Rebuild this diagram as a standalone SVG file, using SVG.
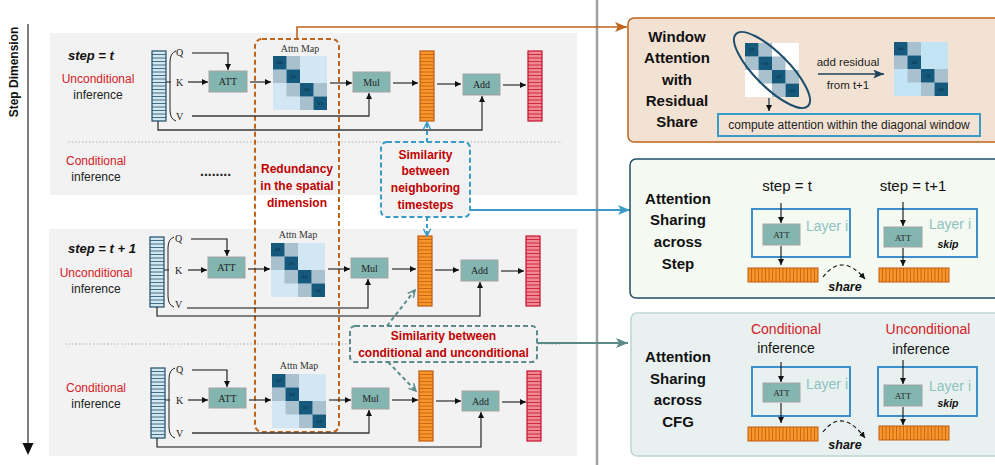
<svg xmlns="http://www.w3.org/2000/svg" xmlns:xlink="http://www.w3.org/1999/xlink" width="995" height="465" viewBox="0 0 995 465">
<style>
.s{font-family:"Liberation Sans",Arial,sans-serif}
.sf{font-family:"Liberation Serif","Times New Roman",serif}
.b{font-weight:bold}
.bi{font-weight:bold;font-style:italic}
.m{text-anchor:middle}
.rd{fill:#d42026}
.rb{fill:#c00000;font-weight:bold;font-size:12px}
.lbl{font-size:12px;fill:#222}
.box{fill:#84b6b1;stroke:#a3a3a3;stroke-width:1}
.bt{font-size:10px;fill:#222}
.am{font-size:10px;fill:#333}
.ln{fill:none;stroke:#3a3a3a;stroke-width:1.3}
.lnk{fill:none;stroke:#111;stroke-width:1.1}
.big{font-size:15px;font-weight:bold;fill:#111}
.layer{fill:none;stroke:#3d8fcb;stroke-width:2}
.li{font-size:14px;fill:#8ec3c1}
.sm{font-size:15px;fill:#111}
.ci{font-size:14px}
</style>
<defs>
<marker id="ah" viewBox="0 0 8 8" refX="8" refY="4" markerWidth="6" markerHeight="6" markerUnits="userSpaceOnUse" orient="auto"><path d="M0,0 L8,4 L0,8 z" fill="#111"/></marker>
<marker id="ahO" viewBox="0 0 12 10" refX="12" refY="5" markerWidth="12" markerHeight="10" markerUnits="userSpaceOnUse" orient="auto"><path d="M0,0 L12,5 L0,10 L3,5 z" fill="#c0641c"/></marker>
<marker id="ahB" viewBox="0 0 12 10" refX="12" refY="5" markerWidth="12" markerHeight="10" markerUnits="userSpaceOnUse" orient="auto"><path d="M0,0 L12,5 L0,10 L3,5 z" fill="#3a9cc6"/></marker>
<marker id="ahT" viewBox="0 0 12 10" refX="12" refY="5" markerWidth="12" markerHeight="10" markerUnits="userSpaceOnUse" orient="auto"><path d="M0,0 L12,5 L0,10 L3,5 z" fill="#5b8a8a"/></marker>
<marker id="ahN" viewBox="0 0 12 10" refX="12" refY="5" markerWidth="11" markerHeight="9" markerUnits="userSpaceOnUse" orient="auto"><path d="M0,0 L12,5 L0,10 L3,5 z" fill="#1f3f5c"/></marker>
<marker id="vB" viewBox="0 0 10 10" refX="9" refY="5" markerWidth="9" markerHeight="9" markerUnits="userSpaceOnUse" orient="auto"><path d="M1,1 L9,5 L1,9" fill="none" stroke="#3a9cc6" stroke-width="1.6"/></marker>
<marker id="vT" viewBox="0 0 10 10" refX="9" refY="5" markerWidth="9" markerHeight="9" markerUnits="userSpaceOnUse" orient="auto"><path d="M1,1 L9,5 L1,9" fill="none" stroke="#5b8a8a" stroke-width="1.6"/></marker>
<g id="stripesH"><path d="M0,3.5H14M0,7H14M0,10.5H14M0,14H14M0,17.5H14M0,21H14M0,24.5H14M0,28H14M0,31.5H14M0,35H14M0,38.5H14M0,42H14M0,45.5H14M0,49H14M0,52.5H14M0,56H14M0,59.5H14M0,63H14M0,66.5H14"/></g>
<g id="tokB"><rect width="14" height="70" fill="#d3e7f1" stroke="#1f4e6b" stroke-width="1.2"/><use href="#stripesH" stroke="#1f4e6b" stroke-width="0.8"/></g>
<g id="tokO"><rect width="14" height="70" fill="#f7962a" stroke="#c05a12" stroke-width="1.2"/><use href="#stripesH" stroke="#c05a12" stroke-width="0.8"/></g>
<g id="tokR"><rect width="14" height="70" fill="#ee8a92" stroke="#c8102e" stroke-width="1.2"/><use href="#stripesH" stroke="#c8102e" stroke-width="0.8"/></g>
<g id="strip"><rect width="70" height="14" fill="#f7962a" stroke="#c05a12" stroke-width="1"/><path d="M3.5,0V14M7,0V14M10.5,0V14M14,0V14M17.5,0V14M21,0V14M24.5,0V14M28,0V14M31.5,0V14M35,0V14M38.5,0V14M42,0V14M45.5,0V14M49,0V14M52.5,0V14M56,0V14M59.5,0V14M63,0V14M66.5,0V14" stroke="#c05a12" stroke-width="0.8"/></g>
<g id="cells">
<rect x="13.5" y="0" width="13.5" height="13.5" fill="#a9c0cf"/>
<rect x="0" y="13.5" width="13.5" height="13.5" fill="#a9c0cf"/>
<rect x="13.5" y="27" width="13.5" height="13.5" fill="#a9c0cf"/>
<rect x="40.5" y="27" width="13.5" height="13.5" fill="#a9c0cf"/>
<rect x="27" y="40.5" width="13.5" height="13.5" fill="#a9c0cf"/>
<rect x="0" y="0" width="13.5" height="13.5" fill="#15597c"/>
<rect x="13.5" y="13.5" width="13.5" height="13.5" fill="#15597c"/>
<rect x="27" y="27" width="13.5" height="13.5" fill="#15597c"/>
<rect x="40.5" y="40.5" width="13.5" height="13.5" fill="#15597c"/>
<g font-family="Liberation Serif,serif" font-size="4" fill="#0a2536" text-anchor="middle"><text x="6.75" y="8">0.8</text><text x="20.25" y="21.5">0.8</text><text x="33.75" y="35">0.8</text><text x="47.25" y="48.5">0.8</text></g>
</g>
<g id="amap"><rect width="54" height="54" fill="#d3e6f3"/><use href="#cells"/></g>
<g id="wmap"><rect width="54" height="54" fill="#fff"/>
<rect x="13.5" y="0" width="13.5" height="13.5" fill="#a9c0cf"/>
<rect x="0" y="13.5" width="13.5" height="13.5" fill="#a9c0cf"/>
<rect x="27" y="13.5" width="13.5" height="13.5" fill="#a9c0cf"/>
<rect x="13.5" y="27" width="13.5" height="13.5" fill="#a9c0cf"/>
<rect x="40.5" y="27" width="13.5" height="13.5" fill="#a9c0cf"/>
<rect x="27" y="40.5" width="13.5" height="13.5" fill="#a9c0cf"/>
<rect x="0" y="0" width="13.5" height="13.5" fill="#15597c"/>
<rect x="13.5" y="13.5" width="13.5" height="13.5" fill="#15597c"/>
<rect x="27" y="27" width="13.5" height="13.5" fill="#15597c"/>
<rect x="40.5" y="40.5" width="13.5" height="13.5" fill="#15597c"/>
<g font-family="Liberation Serif,serif" font-size="4" fill="#0a2536" text-anchor="middle"><text x="6.75" y="8">0.8</text><text x="20.25" y="21.5">0.8</text><text x="33.75" y="35">0.8</text><text x="47.25" y="48.5">0.8</text></g>
</g>
<g id="bmap"><rect width="54" height="54" fill="#c2e4f4"/><use href="#cells"/></g>
</defs>

<rect width="995" height="465" fill="#fff"/>

<!-- left panels -->
<rect x="50" y="33" width="527" height="162" fill="#f2f2f2"/>
<rect x="49" y="229" width="528" height="227" fill="#f2f2f2"/>
<line x1="68" y1="142" x2="562" y2="142" stroke="#b0b0b0" stroke-width="1" stroke-dasharray="1.5 2"/>
<line x1="65" y1="344" x2="562" y2="344" stroke="#b0b0b0" stroke-width="1" stroke-dasharray="1.5 2"/>

<!-- step dimension axis -->
<g id="axis">
<line x1="28" y1="24" x2="28" y2="444" stroke="#555" stroke-width="1.5"/>
<path d="M22.5,443 L33.5,443 L28,455 z" fill="#111"/>
<text class="s b" font-size="12" fill="#111" text-anchor="middle" transform="translate(18,72) rotate(-90)">Step Dimension</text>
</g>

<line x1="597" y1="0" x2="597" y2="465" stroke="#a0a0a0" stroke-width="2.5"/>

<!-- row A -->
<g id="rowA-labels">
<text class="s bi" font-size="13" x="68" y="60" fill="#111">step = t</text>
<text class="s m rd" font-size="12" x="98" y="83">Unconditional</text>
<text class="s m lbl" x="98" y="99">inference</text>
<text class="s m rd" font-size="12" x="96" y="165">Conditional</text>
<text class="s m lbl" x="96" y="181">inference</text>
<text class="s b" font-size="14" x="200" y="176" fill="#222">........</text>
</g>
<g id="rowA-tokens"><use href="#tokB" x="152" y="51"/>
<path d="M176,51 Q170,53 170,62 L170,110 Q170,119 176,121" fill="none" stroke="#222" stroke-width="1"/>
<line x1="166" y1="82" x2="171" y2="82" stroke="#222" stroke-width="1"/>
<g class="sf bt"><text x="176" y="56">Q</text><text x="176" y="86">K</text><text x="176" y="120">V</text></g></g>
<g id="rowA-att"><rect class="box" x="209" y="71" width="38" height="21"/><text class="sf bt m" x="228" y="85">ATT</text></g>
<g id="rowA-map"><text class="sf m am" x="300" y="52">Attn Map</text><use href="#amap" x="273" y="56"/></g>
<g id="rowA-mul"><rect class="box" x="353" y="72" width="37" height="20"/><text class="sf bt m" x="371.5" y="86">Mul</text></g>
<g id="rowA-orange"><use href="#tokO" x="420" y="51"/></g>
<g id="rowA-add"><rect class="box" x="463" y="74" width="37" height="21"/><text class="sf bt m" x="481.5" y="88">Add</text></g>
<g id="rowA-red"><use href="#tokR" x="528" y="51"/></g>

<!-- row B -->
<g id="rowB-labels">
<text class="s bi" font-size="13" x="68" y="253" fill="#111">step = t + 1</text>
<text class="s m rd" font-size="12" x="96" y="277">Unconditional</text>
<text class="s m lbl" x="96" y="293">inference</text>
</g>
<g id="rowB-tokens"><use href="#tokB" x="150" y="237"/>
<path d="M174,237 Q168,239 168,248 L168,296 Q168,305 174,307" fill="none" stroke="#222" stroke-width="1"/>
<line x1="164" y1="270" x2="169" y2="270" stroke="#222" stroke-width="1"/>
<g class="sf bt"><text x="175" y="242">Q</text><text x="175" y="274">K</text><text x="175" y="308">V</text></g></g>
<g id="rowB-att"><rect class="box" x="208" y="257" width="37" height="21"/><text class="sf bt m" x="226.5" y="271">ATT</text></g>
<g id="rowB-map"><text class="sf m am" x="298" y="238">Attn Map</text><use href="#amap" x="271" y="243"/></g>
<g id="rowB-mul"><rect class="box" x="351" y="258" width="37" height="20"/><text class="sf bt m" x="369.5" y="272">Mul</text></g>
<g id="rowB-orange"><use href="#tokO" x="418" y="236"/></g>
<g id="rowB-add"><rect class="box" x="461" y="260" width="37" height="21"/><text class="sf bt m" x="479.5" y="274">Add</text></g>
<g id="rowB-red"><use href="#tokR" x="526" y="236"/></g>

<!-- row C -->
<g id="rowC-labels">
<text class="s m rd" font-size="12" x="96" y="392">Conditional</text>
<text class="s m lbl" x="96" y="408">inference</text>
</g>
<g id="rowC-tokens"><use href="#tokB" x="151" y="368"/>
<path d="M175,368 Q169,370 169,379 L169,427 Q169,436 175,438" fill="none" stroke="#222" stroke-width="1"/>
<line x1="165" y1="400" x2="170" y2="400" stroke="#222" stroke-width="1"/>
<g class="sf bt"><text x="176" y="373">Q</text><text x="176" y="404">K</text><text x="176" y="437">V</text></g></g>
<g id="rowC-att"><rect class="box" x="209" y="388" width="37" height="20"/><text class="sf bt m" x="227.5" y="401.5">ATT</text></g>
<g id="rowC-map"><text class="sf m am" x="299" y="369">Attn Map</text><use href="#amap" x="272" y="374"/></g>
<g id="rowC-mul"><rect class="box" x="352" y="388" width="37" height="21"/><text class="sf bt m" x="370.5" y="402">Mul</text></g>
<g id="rowC-orange"><use href="#tokO" x="419" y="371"/></g>
<g id="rowC-add"><rect class="box" x="462" y="391" width="37" height="20"/><text class="sf bt m" x="480.5" y="404.5">Add</text></g>
<g id="rowC-red"><use href="#tokR" x="527" y="371"/></g>

<!-- annotation boxes -->
<g id="redundancy">
<rect x="255" y="39" width="84" height="393" rx="7" fill="none" stroke="#c0641c" stroke-width="2" stroke-dasharray="5 3"/>
<text class="s m rb" x="297" y="173">Redundancy</text>
<text class="s m rb" x="297" y="190">in the spatial</text>
<text class="s m rb" x="297" y="207">dimension</text>
</g>
<g id="sim-steps">
<rect x="381" y="142" width="89" height="75" rx="6" fill="#f2f2f2" stroke="#3a9cc6" stroke-width="2" stroke-dasharray="5 3"/>
<text class="s m rb" x="425.5" y="159">Similarity</text>
<text class="s m rb" x="425.5" y="175">between</text>
<text class="s m rb" x="425.5" y="192">neighboring</text>
<text class="s m rb" x="425.5" y="209">timesteps</text>
</g>
<g id="sim-cfg">
<rect x="350" y="326" width="187" height="36" rx="5" fill="#f2f2f2" stroke="#5b8a8a" stroke-width="2" stroke-dasharray="5 3"/>
<text class="s m rb" x="443.5" y="340">Similarity between</text>
<text class="s m rb" x="443.5" y="357">conditional and unconditional</text>
</g>

<!-- connectors -->
<g id="connectors">
<path class="lnk" d="M192,53 H228 V70" marker-end="url(#ah)"/>
<path class="lnk" d="M188,82 H208" marker-end="url(#ah)"/>
<path class="ln" d="M250,82 H271" marker-end="url(#ah)"/>
<path class="ln" d="M330,83 H352" marker-end="url(#ah)"/>
<path class="ln" d="M393,83 H418" marker-end="url(#ah)"/>
<path class="ln" d="M437,84 H461" marker-end="url(#ah)"/>
<path class="ln" d="M503,85 H526" marker-end="url(#ah)"/>
<path class="ln" d="M192,116 H369 V93" marker-end="url(#ah)"/>
<path class="ln" d="M158,121 V130 H482 V96" marker-end="url(#ah)"/>

<path class="lnk" d="M191,239 H227 V256" marker-end="url(#ah)"/>
<path class="lnk" d="M188,270 H207" marker-end="url(#ah)"/>
<path class="ln" d="M248,269 H270" marker-end="url(#ah)"/>
<path class="ln" d="M328,269 H350" marker-end="url(#ah)"/>
<path class="ln" d="M392,269 H416" marker-end="url(#ah)"/>
<path class="ln" d="M435,270 H459" marker-end="url(#ah)"/>
<path class="ln" d="M501,271 H524" marker-end="url(#ah)"/>
<path class="lnk" d="M187,308 H368 V279" marker-end="url(#ah)"/>
<path class="lnk" d="M157,307 V316 H480 V282" marker-end="url(#ah)"/>

<path class="lnk" d="M192,370 H227 V387" marker-end="url(#ah)"/>
<path class="lnk" d="M188,400 H208" marker-end="url(#ah)"/>
<path class="ln" d="M249,400 H271" marker-end="url(#ah)"/>
<path class="ln" d="M329,400 H351" marker-end="url(#ah)"/>
<path class="ln" d="M392,400 H418" marker-end="url(#ah)"/>
<path class="ln" d="M436,401 H461" marker-end="url(#ah)"/>
<path class="ln" d="M502,402 H526" marker-end="url(#ah)"/>
<path class="ln" d="M192,433 H369 V410" marker-end="url(#ah)"/>
<path class="lnk" d="M157,438 V447 H481 V412" marker-end="url(#ah)"/>

<path d="M427,142 V122" fill="none" stroke="#3a9cc6" stroke-width="2" stroke-dasharray="4 3" marker-end="url(#vB)"/>
<path d="M427,217 V236" fill="none" stroke="#3a9cc6" stroke-width="2" stroke-dasharray="4 3" marker-end="url(#vB)"/>
<path d="M387,326 L415,290" fill="none" stroke="#5b8a8a" stroke-width="2" stroke-dasharray="4 3" marker-end="url(#vT)"/>
<path d="M388,362 L416,391" fill="none" stroke="#5b8a8a" stroke-width="2" stroke-dasharray="4 3" marker-end="url(#vT)"/>

<path d="M297,39 V27 H627" fill="none" stroke="#c0641c" stroke-width="1.6" marker-end="url(#ahO)"/>
<path d="M470,210 H630" fill="none" stroke="#3a9cc6" stroke-width="1.8" marker-end="url(#ahB)"/>
<path d="M537,343 H628" fill="none" stroke="#5b8a8a" stroke-width="1.8" marker-end="url(#ahT)"/>
</g>

<!-- right panel: window attention -->
<g id="window-attention">
<rect x="628" y="18" width="380" height="124" rx="6" fill="#f2e2d3" stroke="#c0641c" stroke-width="1.5"/>
<g class="s m big"><text x="677" y="42">Window</text><text x="677" y="63">Attention</text><text x="677" y="85">with</text><text x="677" y="106">Residual</text><text x="677" y="127">Share</text></g>
<use href="#wmap" x="745" y="43"/>
<ellipse cx="772" cy="70" rx="51" ry="17" transform="rotate(45 772 70)" fill="none" stroke="#1f4e6b" stroke-width="2"/>
<path d="M769,98 V111" fill="none" stroke="#1f3f5c" stroke-width="1.3" marker-end="url(#ah)"/>
<text class="s m" font-size="11.5" fill="#222" x="848" y="66">add residual</text>
<path d="M818,74 H884" fill="none" stroke="#1f3f5c" stroke-width="1.6" marker-end="url(#ahN)"/>
<text class="s m" font-size="11.5" fill="#222" x="848" y="89">from t+1</text>
<use href="#bmap" x="894" y="42"/>
<rect x="718" y="114" width="262" height="22" fill="none" stroke="#3a9cc6" stroke-width="2"/>
<text class="s m" font-size="12" fill="#222" x="849" y="129">compute attention within the diagonal window</text>
</g>

<!-- right panel: sharing across step -->
<g id="share-step">
<rect x="630" y="159" width="380" height="139" rx="6" fill="#f4f9f2" stroke="#1f4e6b" stroke-width="1.5"/>
<g class="s m big"><text x="678" y="204">Attention</text><text x="678" y="225">Sharing</text><text x="678" y="247">across</text><text x="678" y="269">Step</text></g>
<text class="s m sm" x="787" y="191">step = t</text>
<text class="s m sm" x="913" y="191">step = t+1</text>
<rect class="layer" x="752" y="209" width="98" height="48"/>
<rect class="box" x="763" y="224" width="37" height="21"/><text class="sf m" font-size="9" fill="#222" x="781.5" y="238">ATT</text>
<path class="lnk" d="M781,203 V223" marker-end="url(#ah)"/>
<path class="lnk" d="M781,246 V265" marker-end="url(#ah)"/>
<text class="s m li" x="827" y="231">Layer i</text>
<use href="#strip" x="748" y="268"/>
<path d="M823,277 Q842,252 865,279" fill="none" stroke="#111" stroke-width="1.1" stroke-dasharray="4 3" marker-end="url(#ah)"/>
<text class="s m bi" font-size="12.5" fill="#111" x="845" y="291">share</text>
<rect class="layer" x="878" y="209" width="99" height="48"/>
<rect class="box" x="884" y="227" width="38" height="20"/><text class="sf m" font-size="9" fill="#222" x="903" y="240.5">ATT</text>
<path class="lnk" d="M903,202 V226" marker-end="url(#ah)"/>
<path class="lnk" d="M903,248 V266" marker-end="url(#ah)"/>
<text class="s m li" x="950" y="229">Layer i</text>
<text class="s m bi" font-size="10.5" fill="#111" x="948" y="248">skip</text>
<use href="#strip" x="879" y="268"/>
</g>

<!-- right panel: sharing across CFG -->
<g id="share-cfg">
<rect x="631" y="313" width="380" height="143" rx="6" fill="#e9f1f0" stroke="#bcd6d2" stroke-width="1.5"/>
<g class="s m big"><text x="678" y="362">Attention</text><text x="678" y="384">Sharing</text><text x="678" y="405">across</text><text x="678" y="427">CFG</text></g>
<text class="s m ci rd" x="786" y="334">Conditional</text>
<text class="s m ci" fill="#111" x="786" y="353">inference</text>
<text class="s m ci rd" x="928" y="334">Unconditional</text>
<text class="s m ci" fill="#111" x="921" y="354">inference</text>
<rect class="layer" x="752" y="367" width="98" height="49"/>
<rect class="box" x="763" y="383" width="37" height="19"/><text class="sf m" font-size="9" fill="#222" x="781.5" y="396">ATT</text>
<path class="lnk" d="M781,362 V382" marker-end="url(#ah)"/>
<path class="lnk" d="M781,403 V423" marker-end="url(#ah)"/>
<text class="s m li" x="827" y="389">Layer i</text>
<use href="#strip" x="748" y="427"/>
<path d="M823,432 Q842,407 865,438" fill="none" stroke="#111" stroke-width="1.1" stroke-dasharray="4 3" marker-end="url(#ah)"/>
<text class="s m bi" font-size="12.5" fill="#111" x="845" y="449">share</text>
<rect class="layer" x="878" y="367" width="99" height="49"/>
<rect class="box" x="884" y="385" width="38" height="21"/><text class="sf m" font-size="9" fill="#222" x="903" y="399">ATT</text>
<path class="lnk" d="M903,360 V384" marker-end="url(#ah)"/>
<path class="lnk" d="M903,407 V425" marker-end="url(#ah)"/>
<text class="s m li" x="950" y="391">Layer i</text>
<text class="s m bi" font-size="10.5" fill="#111" x="948" y="407">skip</text>
<use href="#strip" x="879" y="426"/>
</g>
</svg>
